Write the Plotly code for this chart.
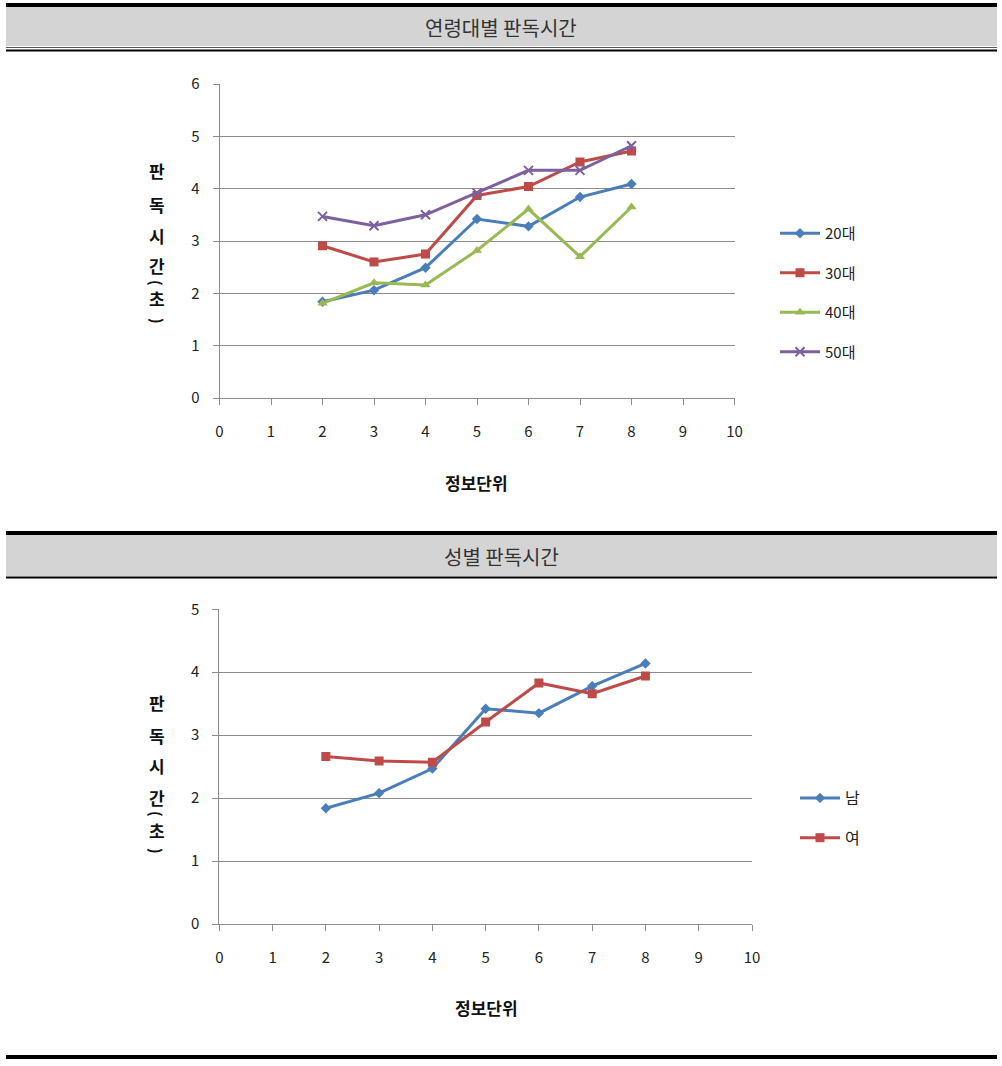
import plotly.graph_objects as go

W, H = 1002, 1066

# ---------------- data ----------------
x_units = [2, 3, 4, 5, 6, 7, 8]

age_names = ["20대", "30대", "40대", "50대"]
age_20 = [1.84, 2.06, 2.49, 3.42, 3.28, 3.84, 4.09]
age_30 = [2.91, 2.60, 2.75, 3.87, 4.04, 4.51, 4.72]
age_40 = [1.81, 2.20, 2.16, 2.82, 3.61, 2.70, 3.65]
age_50 = [3.47, 3.29, 3.50, 3.92, 4.35, 4.35, 4.82]

sex_names = ["남", "여"]
sex_m = [1.84, 2.08, 2.47, 3.42, 3.35, 3.78, 4.14]
sex_f = [2.66, 2.59, 2.57, 3.21, 3.83, 3.66, 3.94]

title_top = "연령대별 판독시간"
title_bottom = "성별 판독시간"
x_title = "정보단위"
y_title_chars = ["판", "독", "시", "간", "(", "초", ")"]

x_ticks = list(range(0, 11))
y_ticks_top = list(range(0, 7))
y_ticks_bottom = list(range(0, 6))

# ---------------- styles ----------------
colors = ["#4A7EBB", "#BE4B48", "#98B954", "#7D60A0"]
symbols = ["diamond", "square", "triangle-up", "x-thin"]
msizes = [8, 9, 9, 9]

FONT = "Noto Sans CJK KR"


def px(x):
    return x / W


def py(y):
    return 1 - y / H


fig = go.Figure()

age_series = [age_20, age_30, age_40, age_50]
for i, (name, vals) in enumerate(zip(age_names, age_series)):
    marker = dict(symbol=symbols[i], size=msizes[i], color=colors[i])
    if symbols[i] == "x-thin":
        marker["line"] = dict(color=colors[i], width=2)
    fig.add_trace(go.Scatter(
        x=x_units, y=vals, name=name, mode="lines+markers",
        line=dict(color=colors[i], width=3), marker=marker,
        xaxis="x", yaxis="y", legend="legend", legendgroup=name,
    ))

for i, (name, vals) in enumerate(zip(sex_names, [sex_m, sex_f])):
    fig.add_trace(go.Scatter(
        x=x_units, y=vals, name=name, mode="lines+markers",
        line=dict(color=colors[i], width=3),
        marker=dict(symbol=symbols[i], size=msizes[i], color=colors[i]),
        xaxis="x2", yaxis="y2", legend="legend2", legendgroup=name,
    ))

axis_common = dict(
    showline=True, linecolor="#8C8C8C", linewidth=1,
    ticks="outside", tickcolor="#8C8C8C", ticklen=6, tickwidth=1,
    tickfont=dict(family=FONT, size=15, color="#222222"),
    zeroline=False, fixedrange=True, automargin=False,
)

fig.update_layout(
    width=W, height=H,
    margin=dict(l=0, r=0, t=0, b=0, pad=0, autoexpand=False),
    paper_bgcolor="white", plot_bgcolor="white",
    font=dict(family=FONT, color="#222222"),
    xaxis=dict(domain=[px(219.5), px(734.5)], range=[0, 10], tickvals=x_ticks,
               showgrid=False, anchor="y", ticklabelstandoff=14, **axis_common),
    yaxis=dict(domain=[py(398), py(84)], range=[0, 6], tickvals=y_ticks_top,
               showgrid=True, gridcolor="#8C8C8C", gridwidth=1, anchor="x",
               ticklabelstandoff=10, **axis_common),
    xaxis2=dict(domain=[px(219.3), px(752)], range=[0, 10], tickvals=x_ticks,
                showgrid=False, anchor="y2", ticklabelstandoff=14, **axis_common),
    yaxis2=dict(domain=[py(924), py(609.3)], range=[0, 5], tickvals=y_ticks_bottom,
                showgrid=True, gridcolor="#8C8C8C", gridwidth=1, anchor="x2",
                ticklabelstandoff=10, **axis_common),
    legend=dict(x=px(775), y=py(217), xanchor="left", yanchor="top",
                font=dict(family=FONT, size=15, color="#222222"),
                traceorder="grouped", tracegroupgap=17, bgcolor="rgba(0,0,0,0)",
                itemwidth=40),
    legend2=dict(x=px(795), y=py(781), xanchor="left", yanchor="top",
                 font=dict(family=FONT, size=16, color="#222222"),
                 traceorder="grouped", tracegroupgap=16, bgcolor="rgba(0,0,0,0)",
                 itemwidth=40),
    showlegend=True,
)

shapes = []
# top header band
shapes.append(dict(type="rect", xref="paper", yref="paper", x0=px(6), x1=px(997),
                   y0=py(7), y1=py(46), fillcolor="#D4D4D4", line=dict(width=0), layer="below"))
shapes.append(dict(type="rect", xref="paper", yref="paper", x0=px(6), x1=px(997),
                   y0=py(3), y1=py(7), fillcolor="black", line=dict(width=0)))
shapes.append(dict(type="line", xref="paper", yref="paper", x0=px(6), x1=px(997),
                   y0=py(47.5), y1=py(47.5), line=dict(color="#555555", width=1)))
shapes.append(dict(type="line", xref="paper", yref="paper", x0=px(6), x1=px(997),
                   y0=py(50.5), y1=py(50.5), line=dict(color="black", width=2)))
# second header band
shapes.append(dict(type="rect", xref="paper", yref="paper", x0=px(6), x1=px(997),
                   y0=py(535), y1=py(576), fillcolor="#D4D4D4", line=dict(width=0), layer="below"))
shapes.append(dict(type="rect", xref="paper", yref="paper", x0=px(6), x1=px(997),
                   y0=py(531), y1=py(535), fillcolor="black", line=dict(width=0)))
shapes.append(dict(type="line", xref="paper", yref="paper", x0=px(6), x1=px(997),
                   y0=py(577.5), y1=py(577.5), line=dict(color="black", width=2)))
# bottom rule
shapes.append(dict(type="rect", xref="paper", yref="paper", x0=px(6), x1=px(997),
                   y0=py(1055), y1=py(1059), fillcolor="black", line=dict(width=0)))
fig.update_layout(shapes=shapes)

ann = []
ann.append(dict(text=title_top, x=px(501), y=py(27), xref="paper", yref="paper",
                xanchor="center", yanchor="middle",
                showarrow=False, font=dict(family=FONT, size=20, color="#333333")))
ann.append(dict(text=title_bottom, x=px(501), y=py(556), xref="paper", yref="paper",
                xanchor="center", yanchor="middle",
                showarrow=False, font=dict(family=FONT, size=20, color="#333333")))
ann.append(dict(text="<b>" + x_title + "</b>", x=px(476), y=py(482), xref="paper", yref="paper",
                xanchor="center", yanchor="middle",
                showarrow=False, font=dict(family=FONT, size=17, color="#111111")))
ann.append(dict(text="<b>" + x_title + "</b>", x=px(486), y=py(1007), xref="paper", yref="paper",
                xanchor="center", yanchor="middle",
                showarrow=False, font=dict(family=FONT, size=17, color="#111111")))

y_pos_top = [170, 204, 235, 265, 283, 298, 321]
y_pos_bottom = [703, 735, 766, 797, 814, 830, 851]
for ys in (y_pos_top, y_pos_bottom):
    for ch, yy in zip(y_title_chars, ys):
        is_paren = ch in "()"
        ann.append(dict(text="<b>" + ch + "</b>", x=px(157), y=py(yy), xref="paper", yref="paper",
                        showarrow=False, textangle=90 if is_paren else 0,
                        yanchor="middle", xanchor="center",
                        font=dict(family=FONT, size=15 if is_paren else 17, color="#111111")))
fig.update_layout(annotations=ann)

page_css = ("var s=document.createElement('style');"
            "s.textContent='html,body{margin:0 !important;padding:0 !important;overflow:hidden;}';"
            "document.head.appendChild(s);")
fig.write_html("out.html", post_script=page_css)
